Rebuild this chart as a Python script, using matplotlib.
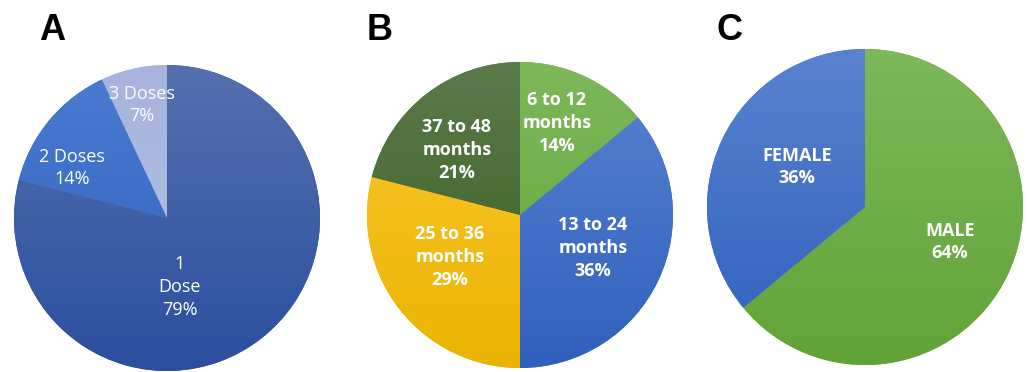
import numpy as np
import matplotlib
matplotlib.use("Agg")
import matplotlib.pyplot as plt
from matplotlib.colors import LinearSegmentedColormap

# ---- data ----
dose_labels = ["3 Doses\n7%", "2 Doses\n14%", "1\nDose\n79%"]
dose_values = [7, 14, 79]

age_labels = ["6 to 12\nmonths\n14%", "13 to 24\nmonths\n36%",
              "25 to 36\nmonths\n29%", "37 to 48\nmonths\n21%"]
age_values = [14, 36, 29, 21]

sex_labels = ["MALE\n64%", "FEMALE\n36%"]
sex_values = [64, 36]

# ---- styling (top colour, bottom colour of each gradient) ----
dose_colors = [("#A6B3DD", "#B7C2E4"), ("#4A7BD0", "#2F62BE"), ("#5470AE", "#2B4E9E")]
age_colors = [("#7DB85A", "#63A33A"), ("#5A83D2", "#2F60BC"),
              ("#FFC733", "#E9B400"), ("#5B7B4C", "#375C1C")]
sex_colors = [("#7DB85A", "#62A338"), ("#5A82D0", "#2F60BC")]

W, H = 1027, 372
fig = plt.figure(figsize=(W / 100, H / 100), dpi=100)
ax = fig.add_axes([0, 0, 1, 1])


def gradient_pie(values, colors, center, radius, startangle, counterclock):
    wedges, _ = ax.pie(values, startangle=startangle, counterclock=counterclock,
                       center=center, radius=radius, frame=True,
                       wedgeprops=dict(linewidth=0, edgecolor="none"))
    cx, cy = center
    extent = [cx - radius, cx + radius, cy - radius, cy + radius]
    grad = np.linspace(0, 1, 256).reshape(-1, 1)
    for w, (top, bottom) in zip(wedges, colors):
        w.set_facecolor(bottom)
        cmap = LinearSegmentedColormap.from_list("g", [top, bottom])
        im = ax.imshow(grad, cmap=cmap, extent=extent, origin="upper",
                       aspect="auto", zorder=w.get_zorder() + 0.1)
        im.set_clip_path(w)
    return wedges


# A - doses
cA = (167, H - 218)
gradient_pie(dose_values, dose_colors, cA, 153, 90, True)
offsA = [(-25, 113), (-95, 50), (13, -69)]
for lab, (dx, dy) in zip(dose_labels, offsA):
    ax.text(cA[0] + dx, cA[1] + dy, lab, ha="center", va="center", color="white",
            fontsize=13, family="Open Sans", linespacing=1.35, zorder=10)

# B - age groups
cB = (520, H - 215)
gradient_pie(age_values, age_colors, cB, 153, 90, False)
offsB = [(37, 92), (73, -33), (-70, -42), (-63, 65)]
for lab, (dx, dy) in zip(age_labels, offsB):
    ax.text(cB[0] + dx, cB[1] + dy, lab, ha="center", va="center", color="white",
            fontsize=13, family="Open Sans", fontweight="bold", linespacing=1.35,
            zorder=10)

# C - sex
cC = (865, H - 207)
gradient_pie(sex_values, sex_colors, cC, 158, 90, False)
offsC = [(85, -35), (-68, 40)]
for lab, (dx, dy) in zip(sex_labels, offsC):
    ax.text(cC[0] + dx, cC[1] + dy, lab, ha="center", va="center", color="white",
            fontsize=13, family="Open Sans", fontweight="bold", linespacing=1.35,
            zorder=10)

ax.set_xlim(0, W)
ax.set_ylim(0, H)
ax.set_aspect("equal")
ax.axis("off")

# panel letters
for letter, x in [("A", 52), ("B", 380), ("C", 730)]:
    ax.text(x, H - 30, letter, ha="center", va="center", fontsize=26,
            fontweight="bold", family="Liberation Sans", color="black")

fig.savefig("out.png", dpi=100)
